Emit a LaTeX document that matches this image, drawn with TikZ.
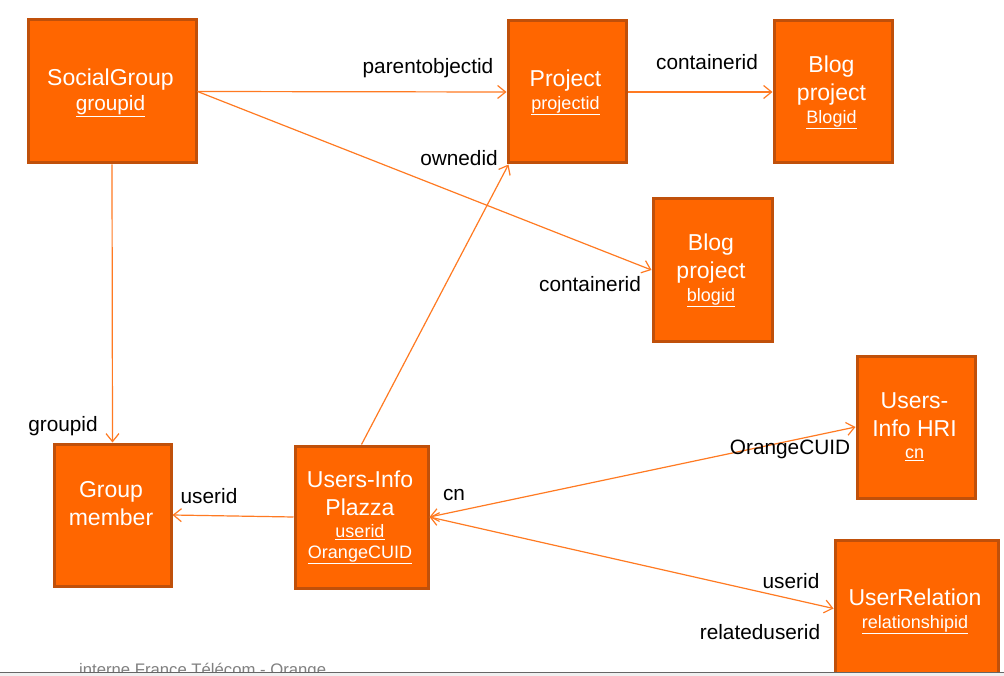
\documentclass[tikz,border=0pt]{standalone}
\usepackage{fontspec}
\setmainfont{Liberation Sans}
\usetikzlibrary{arrows.meta}
\definecolor{boxfill}{HTML}{FF6600}
\definecolor{boxedge}{HTML}{C0500A}
\definecolor{linkc}{HTML}{FF7A22}
\definecolor{footgray}{HTML}{808080}
\newcommand{\ttlf}{\fontsize{23}{28}\selectfont}
\newcommand{\idff}{\fontsize{18}{24}\selectfont}
\newcommand{\idl}[1]{{\idff\underline{#1}}}
\begin{document}
\begin{tikzpicture}[x=1pt,y=-1pt,
  entity/.style 2 args={draw=boxedge, fill=boxfill, line width=3pt, minimum width=#1pt,
    minimum height=#2pt, inner sep=0pt, anchor=north west},
  etext/.style={text=white, align=center, font=\ttlf, inner sep=0pt},
  lab/.style={text=black, font=\fontsize{20.8}{24}\selectfont, inner sep=0pt},
  link/.style={draw=linkc, line width=1.2pt,
    -{Straight Barb[length=8pt,width=13pt,line width=1.2pt]}},
  blink/.style={draw=linkc, line width=1.2pt,
    {Straight Barb[length=8pt,width=13pt,line width=1.2pt]}-{Straight Barb[length=8pt,width=13pt,line width=1.2pt]}}
]
\useasboundingbox (0,0) rectangle (1004,676);
\fill[white] (0,0) rectangle (1004,676);

% boxes
\node[entity={168}{143}] (sg) at (26.5,18.5) {};
\node[entity={118}{142}] (pr) at (506.5,19.5) {};
\node[entity={118}{142}] (bt) at (772.5,19.5) {};
\node[entity={119}{142}] (bm) at (651.5,197.5) {};
\node[entity={117}{142}] (gm) at (52.5,442.5) {};
\node[entity={133}{142}] (pl) at (293.5,444.5) {};
\node[entity={118}{142}] (hri) at (855.5,354.5) {};
\node[entity={163}{134}] (ur) at (833.5,538.5) {};

% box texts
\node[etext] (sgT) at (110.5,93) {SocialGroup\\[-3pt]{\fontsize{20.8}{24}\selectfont\underline{groupid}}};
\node[etext] (prT) at (565.5,92.5) {Project\\[-5pt]\idl{projectid}};
\node[etext] (btT) at (831.5,92.5) {Blog\\project\\[-5pt]\idl{Blogid}};
\node[etext] (bmT) at (711,270.5) {Blog\\project\\[-5pt]\idl{blogid}};
\node[etext] (gmT) at (111,504) {Group\\member};
\node[etext] (plT) at (360,517.5) {Users-Info\\Plazza\\[-6pt]\idl{userid}\\[-7pt]\idl{OrangeCUID}};
\node[etext] (hriT) at (914.5,427) {Users-\\Info HRI\\[-6pt]\idl{cn}};
\node[etext] (urT) at (915,611.5) {UserRelation\\[-5pt]\idl{relationshipid}};

% connectors
\draw[link] (sg.east) -- (pr.west);
\draw[link] (sg.east) -- (bm.west);
\draw[link] (pr.east) -- (bt.west);
\draw[link] (sg.south) -- (gm.north);
\draw[link] (pl.west) -- (gm.east);
\draw[link] (pl.north) -- ([xshift=2pt]pr.south west);
\draw[blink] (pl.east) -- (hri.west);
\draw[blink] (pl.east) -- ([yshift=-70pt]ur.north west);

% labels
\node[lab] (l1) at (428,68) {parentobjectid};
\node[lab] (l2) at (459,158) {ownedid};
\node[lab] (l3) at (707,62) {containerid};
\node[lab] (l4) at (590,284) {containerid};
\node[lab] (l5) at (63,426) {groupid};
\node[lab] (l6) at (209,496) {userid};
\node[lab] (l7) at (454,495) {cn};
\node[lab] (l8) at (790,449) {OrangeCUID};
\node[lab] (l9) at (791,581) {userid};
\node[lab] (l10) at (760,632) {relateduserid};

% footer
\node[anchor=base west, inner sep=0pt, text=footgray, font=\fontsize{16.7}{20}\selectfont] (foot) at (79,675) {interne France Télécom - Orange};
\fill[gray!12] (0,673) rectangle (1004,676);
\draw[gray!80!black, line width=1pt] (0,672.5) -- (1004,672.5);
\end{tikzpicture}
\end{document}
